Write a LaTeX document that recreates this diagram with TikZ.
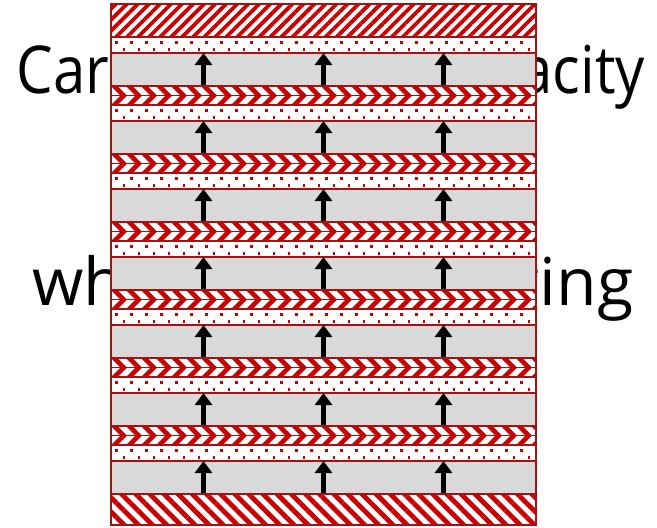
\documentclass[tikz,border=0pt]{standalone}
\usepackage{fontspec}
\setmainfont{Open Sans}
\usetikzlibrary{arrows.meta,positioning,patterns.meta}

\definecolor{hatchred}{RGB}{204,0,0}
\definecolor{edgered}{RGB}{160,20,20}

\begin{document}
\begin{tikzpicture}[
    x=1pt, y=-1pt,
    layer/.style={rectangle, draw=edgered, line width=1.2pt, fill=white, minimum width=425pt, inner sep=0pt, outer sep=0pt},
    capband/.style={layer, preaction={fill=white}, pattern color=hatchred},
    greyband/.style={layer, fill=gray!30, minimum height=33pt},
    dotband/.style={layer, minimum height=16pt, path picture={
        \foreach \k in {0,...,27} {
            \fill[hatchred] ([shift={(4+15*\k,4.2)}]path picture bounding box.north west) rectangle +(2.6,2.6);
            \fill[hatchred] ([shift={(11.5+15*\k,11.2)}]path picture bounding box.north west) rectangle +(2.6,2.6);
        }}},
    chevtop/.style={layer, minimum height=9.5pt, path picture={
        \foreach \k in {0,...,30}
            \fill[hatchred] ([shift={(15*\k-15,0)}]path picture bounding box.north west) -- ++(6.5,0) -- ++(9.5,9.5) -- ++(-6.5,0) -- cycle;
        }},
    chevbot/.style={layer, minimum height=9.5pt, path picture={
        \foreach \k in {0,...,30}
            \fill[hatchred] ([shift={(15*\k-5.5,0)}]path picture bounding box.north west) -- ++(6.5,0) -- ++(-9.5,9.5) -- ++(-6.5,0) -- cycle;
        }},
    bigtext/.style={inner sep=0pt, anchor=base west, font=\fontsize{66}{72}\selectfont},
    uparrow/.style={-{Triangle[length=12pt,width=17pt]}, line width=5.5pt}
]
    \useasboundingbox (0,0) rectangle (657,528);

    \node[bigtext] (line1) at (16.5,93) {\scalebox{0.88}[1]{\makebox[714pt][s]{Carrying capacity}}};
    \node[bigtext] (line2) at (32,305) {\makebox[601pt][s]{when charging}};

    \node[capband, minimum height=33pt, anchor=north,
          pattern={Lines[angle=45,distance=7.8pt,line width=3.8pt]}] (cap) at (323.5,4) {};

    \foreach \i in {0,...,6} {
        \node[dotband, anchor=north] (d\i) at (323.5,37+68*\i) {};
        \node[greyband, below=0pt of d\i] (g\i) {};
        \foreach \x in {-120,0,120}
            \draw[uparrow] ([xshift=\x pt]g\i.south) -- ([xshift=\x pt]g\i.north);
        \ifnum\i<6
            \node[chevtop, below=0pt of g\i] (ct\i) {};
            \node[chevbot, below=0pt of ct\i] (cb\i) {};
        \fi
    }

    \node[capband, minimum height=31pt, below=0pt of g6,
          pattern={Lines[angle=-45,distance=10pt,line width=4.8pt]}] (base) {};
\end{tikzpicture}
\end{document}
